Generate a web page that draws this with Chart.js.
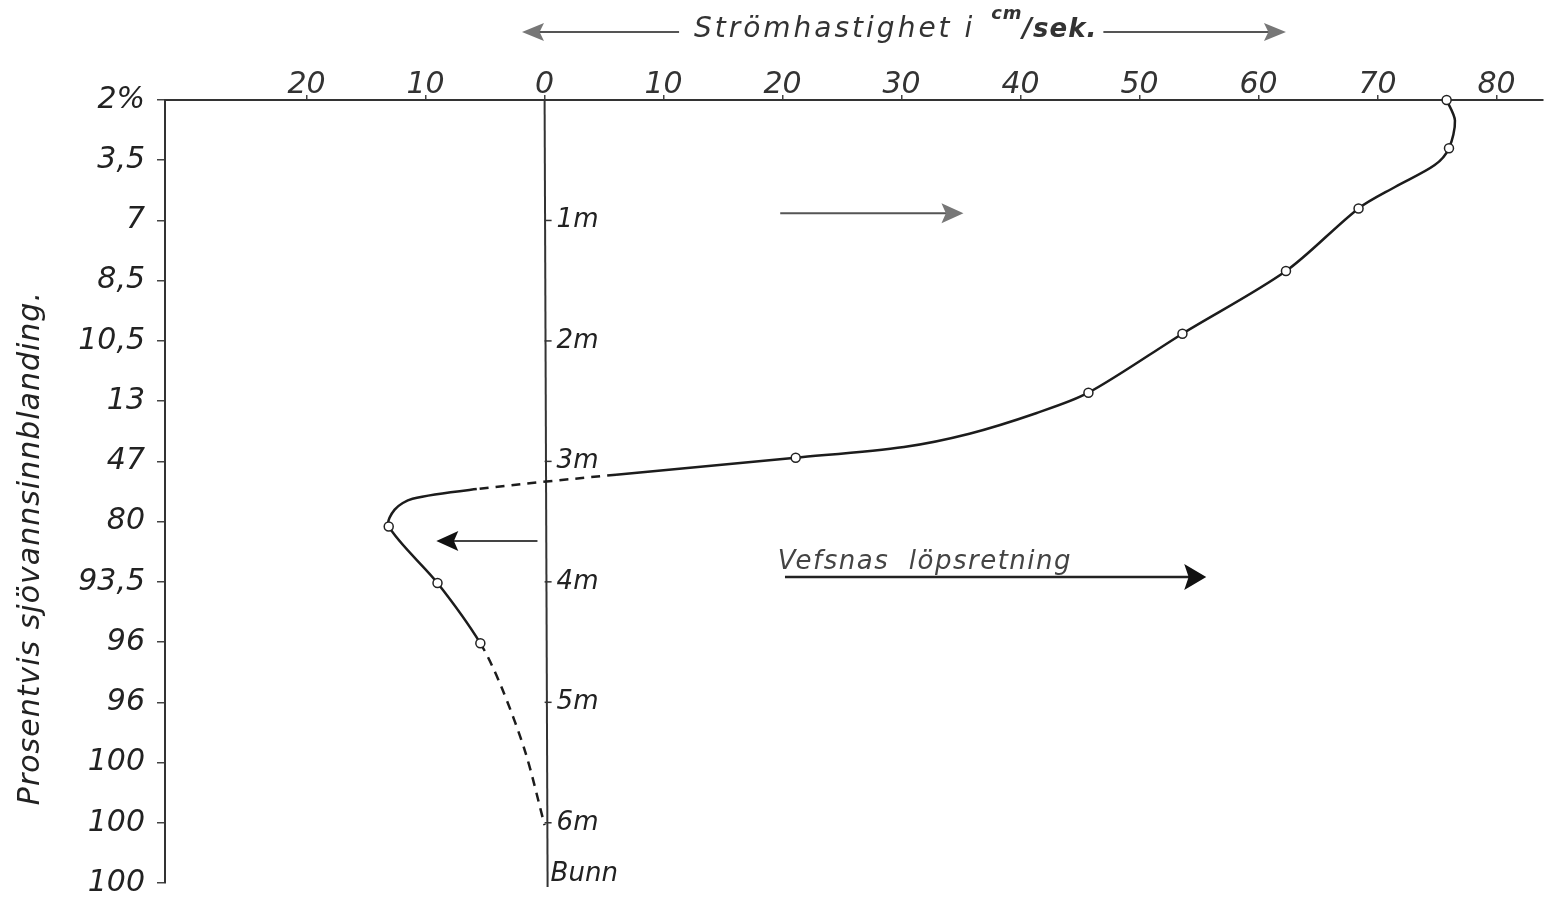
<!DOCTYPE html>
<html>
<head>
<meta charset="utf-8">
<script src="https://cdn.jsdelivr.net/npm/chart.js@4.4.1/dist/chart.umd.min.js"></script>
<style>
  html, body { margin: 0; padding: 0; background: #fff; }
  #wrap { width: 1549px; height: 902px; }
</style>
</head>
<body>
<div id="wrap"><canvas id="chart"></canvas></div>
<script>
// velocity profile: speed in cm/s (negative = upstream), depth in m
const curveSpeed = [75.8, 76.5, 76.0, 74.8, 71.5, 68.4, 62.3, 53.6, 45.7, 41.3, 35.7, 30.2, 21.1, 6.0, -5.7, -11.1, -12.6, -13.1, -9.0, -5.4, -3.6, -1.6, 0];
const curveDepth = [0, 0.17, 0.40, 0.54, 0.72, 0.90, 1.42, 1.94, 2.43, 2.60, 2.77, 2.88, 2.97, 3.11, 3.23, 3.31, 3.40, 3.54, 4.01, 4.51, 4.88, 5.42, 6.02];
const dashedFrom = [13, 19, 20, 21]; // segments (by start index) drawn dashed

// measured points (open circles)
const measSpeed = [75.8, 76.0, 68.4, 62.3, 53.6, 45.7, 21.1, -13.1, -9.0, -5.4];
const measDepth = [0, 0.40, 0.90, 1.42, 1.94, 2.43, 2.97, 3.54, 4.01, 4.51];

const speedTicks = [-20, -10, 0, 10, 20, 30, 40, 50, 60, 70, 80];
const depthTicks = [0, 0.5, 1, 1.5, 2, 2.5, 3, 3.5, 4, 4.5, 5, 5.5, 6, 6.5];
const mixLabels = ['2%', '3,5', '7', '8,5', '10,5', '13', '47', '80', '93,5', '96', '96', '100', '100', '100'];
const meterDepths = [1, 2, 3, 4, 5, 6, 6.43];
const meterLabels = ['1m', '2m', '3m', '4m', '5m', '6m', 'Bunn'];

const FONT = '"DejaVu Sans"';
const tickFont = { family: FONT, size: 30, style: 'italic' };

function arrow(ctx, x1, y, x2, len, half, lineColor, headColor, lw) {
  const dir = Math.sign(x2 - x1);
  ctx.strokeStyle = lineColor;
  ctx.lineWidth = lw;
  ctx.beginPath();
  ctx.moveTo(x1, y);
  ctx.lineTo(x2 - dir * len * 0.6, y);
  ctx.stroke();
  ctx.fillStyle = headColor;
  ctx.beginPath();
  ctx.moveTo(x2, y);
  ctx.lineTo(x2 - dir * len, y - half);
  ctx.lineTo(x2 - dir * len * 0.8, y);
  ctx.lineTo(x2 - dir * len, y + half);
  ctx.closePath();
  ctx.fill();
}

const annotate = {
  id: 'annotate',
  beforeDatasetsDraw(chart) {
    const { ctx, scales: { x, y } } = chart;
    const x0 = x.getPixelForValue(0);
    ctx.save();
    ctx.strokeStyle = '#333';
    ctx.lineWidth = 2;
    ctx.beginPath();
    ctx.moveTo(x0, y.getPixelForValue(0));
    ctx.lineTo(x0 + 3, y.getPixelForValue(6.5) + 4);
    ctx.stroke();
    ctx.font = 'italic 26px ' + FONT;
    ctx.fillStyle = '#222';
    ctx.textBaseline = 'middle';
    ctx.textAlign = 'left';
    meterDepths.forEach((d, i) => {
      const py = y.getPixelForValue(d);
      if (meterLabels[i] !== 'Bunn') {
        ctx.lineWidth = 1.5;
        ctx.beginPath();
        ctx.moveTo(x0, py);
        ctx.lineTo(x0 + 7, py);
        ctx.stroke();
        ctx.fillText(meterLabels[i], x0 + 12, py);
      } else {
        ctx.fillText(meterLabels[i], x0 + 6, py);
      }
    });
    ctx.restore();
  },
  afterDraw(chart) {
    const { ctx, chartArea, scales: { x, y } } = chart;
    ctx.save();

    // top heading with arrows
    const ty = chartArea.top - 68;
    arrow(ctx, x.getPixelForValue(11.3), ty, x.getPixelForValue(-1.9), 22, 9, '#555', '#777', 2);
    ctx.font = 'italic 28px ' + FONT;
    ctx.letterSpacing = '3px';
    ctx.fillStyle = '#333';
    ctx.textBaseline = 'alphabetic';
    ctx.textAlign = 'left';
    let tx = x.getPixelForValue(12.55);
    const part1 = 'Strömhastighet i ';
    ctx.fillText(part1, tx, ty + 5);
    tx += ctx.measureText(part1).width + 4;
    ctx.font = 'italic bold 18px ' + FONT;
    ctx.letterSpacing = '1px';
    ctx.fillText('cm', tx, ty - 13);
    tx += ctx.measureText('cm').width;
    ctx.font = 'italic bold 26px ' + FONT;
    ctx.fillText('/sek.', tx, ty + 5);
    tx += ctx.measureText('/sek.').width + 6;
    arrow(ctx, tx, ty, x.getPixelForValue(62.3), 22, 9, '#555', '#777', 2);

    // arrows inside the plot
    arrow(ctx, x.getPixelForValue(19.8), y.getPixelForValue(0.94), x.getPixelForValue(35.2), 22, 10, '#555', '#777', 2);
    arrow(ctx, x.getPixelForValue(-0.6), y.getPixelForValue(3.66), x.getPixelForValue(-9.1), 22, 10, '#444', '#111', 2);
    arrow(ctx, x.getPixelForValue(20.2), y.getPixelForValue(3.96), x.getPixelForValue(55.6), 22, 13, '#222', '#111', 2.5);

    ctx.font = 'italic 26px ' + FONT;
    ctx.letterSpacing = '1.5px';
    ctx.fillStyle = '#444';
    ctx.fillText('Vefsnas  löpsretning', x.getPixelForValue(19.6), y.getPixelForValue(3.89));

    // left axis title
    ctx.translate(31, y.getPixelForValue(3.72));
    ctx.rotate(-Math.PI / 2);
    ctx.font = 'italic 30px ' + FONT;
    ctx.letterSpacing = '1px';
    ctx.fillStyle = '#222';
    ctx.textAlign = 'center';
    ctx.textBaseline = 'middle';
    ctx.fillText('Prosentvis sjövannsinnblanding.', 0, 0);
    ctx.restore();
  }
};

const curveData = curveSpeed.map((v, i) => ({ x: v, y: curveDepth[i] }));
const measData = measSpeed.map((v, i) => ({ x: v, y: measDepth[i] }));

new Chart(document.getElementById('chart'), {
  type: 'scatter',
  data: {
    datasets: [
      {
        label: 'Målinger',
        data: measData,
        showLine: false,
        pointRadius: 4.5,
        pointBackgroundColor: '#fff',
        pointBorderColor: '#222',
        pointBorderWidth: 1.5,
        clip: false
      },
      {
        label: 'Strømprofil',
        data: curveData,
        showLine: true,
        pointRadius: 0,
        borderColor: '#1c1c1c',
        borderWidth: 2.5,
        tension: 0.3,
        clip: false,
        segment: {
          borderDash: ctx => dashedFrom.includes(ctx.p0DataIndex) ? [9, 7] : undefined
        }
      }
    ]
  },
  options: {
    responsive: true,
    maintainAspectRatio: false,
    animation: false,
    devicePixelRatio: 1,
    layout: { padding: { top: 0, right: 0, bottom: 19, left: 0 } },
    plugins: { legend: { display: false }, tooltip: { enabled: false } },
    scales: {
      x: {
        type: 'linear',
        position: 'top',
        min: -31.9,
        max: 83.9,
        afterBuildTicks: s => { s.ticks = speedTicks.map(v => ({ value: v })); },
        afterFit: s => { s.height = 100; s.paddingLeft = 0; s.paddingRight = 0; },
        ticks: { callback: v => String(Math.abs(v)), font: tickFont, color: '#333', padding: -8, maxRotation: 0 },
        grid: { drawOnChartArea: false, tickLength: 5, color: '#444', lineWidth: 1.5 },
        border: { color: '#333', width: 2 }
      },
      y: {
        type: 'linear',
        reverse: true,
        min: 0,
        max: 6.5,
        afterBuildTicks: s => { s.ticks = depthTicks.map(v => ({ value: v })); },
        afterFit: s => { s.width = 165; s.paddingTop = 0; s.paddingBottom = 0; },
        ticks: { callback: (v, i) => mixLabels[i], font: tickFont, color: '#222', padding: 12 },
        grid: { drawOnChartArea: false, tickLength: 8, color: '#444', lineWidth: 1.5 },
        border: { color: '#333', width: 2 }
      }
    }
  },
  plugins: [annotate]
});
</script>
</body>
</html>
